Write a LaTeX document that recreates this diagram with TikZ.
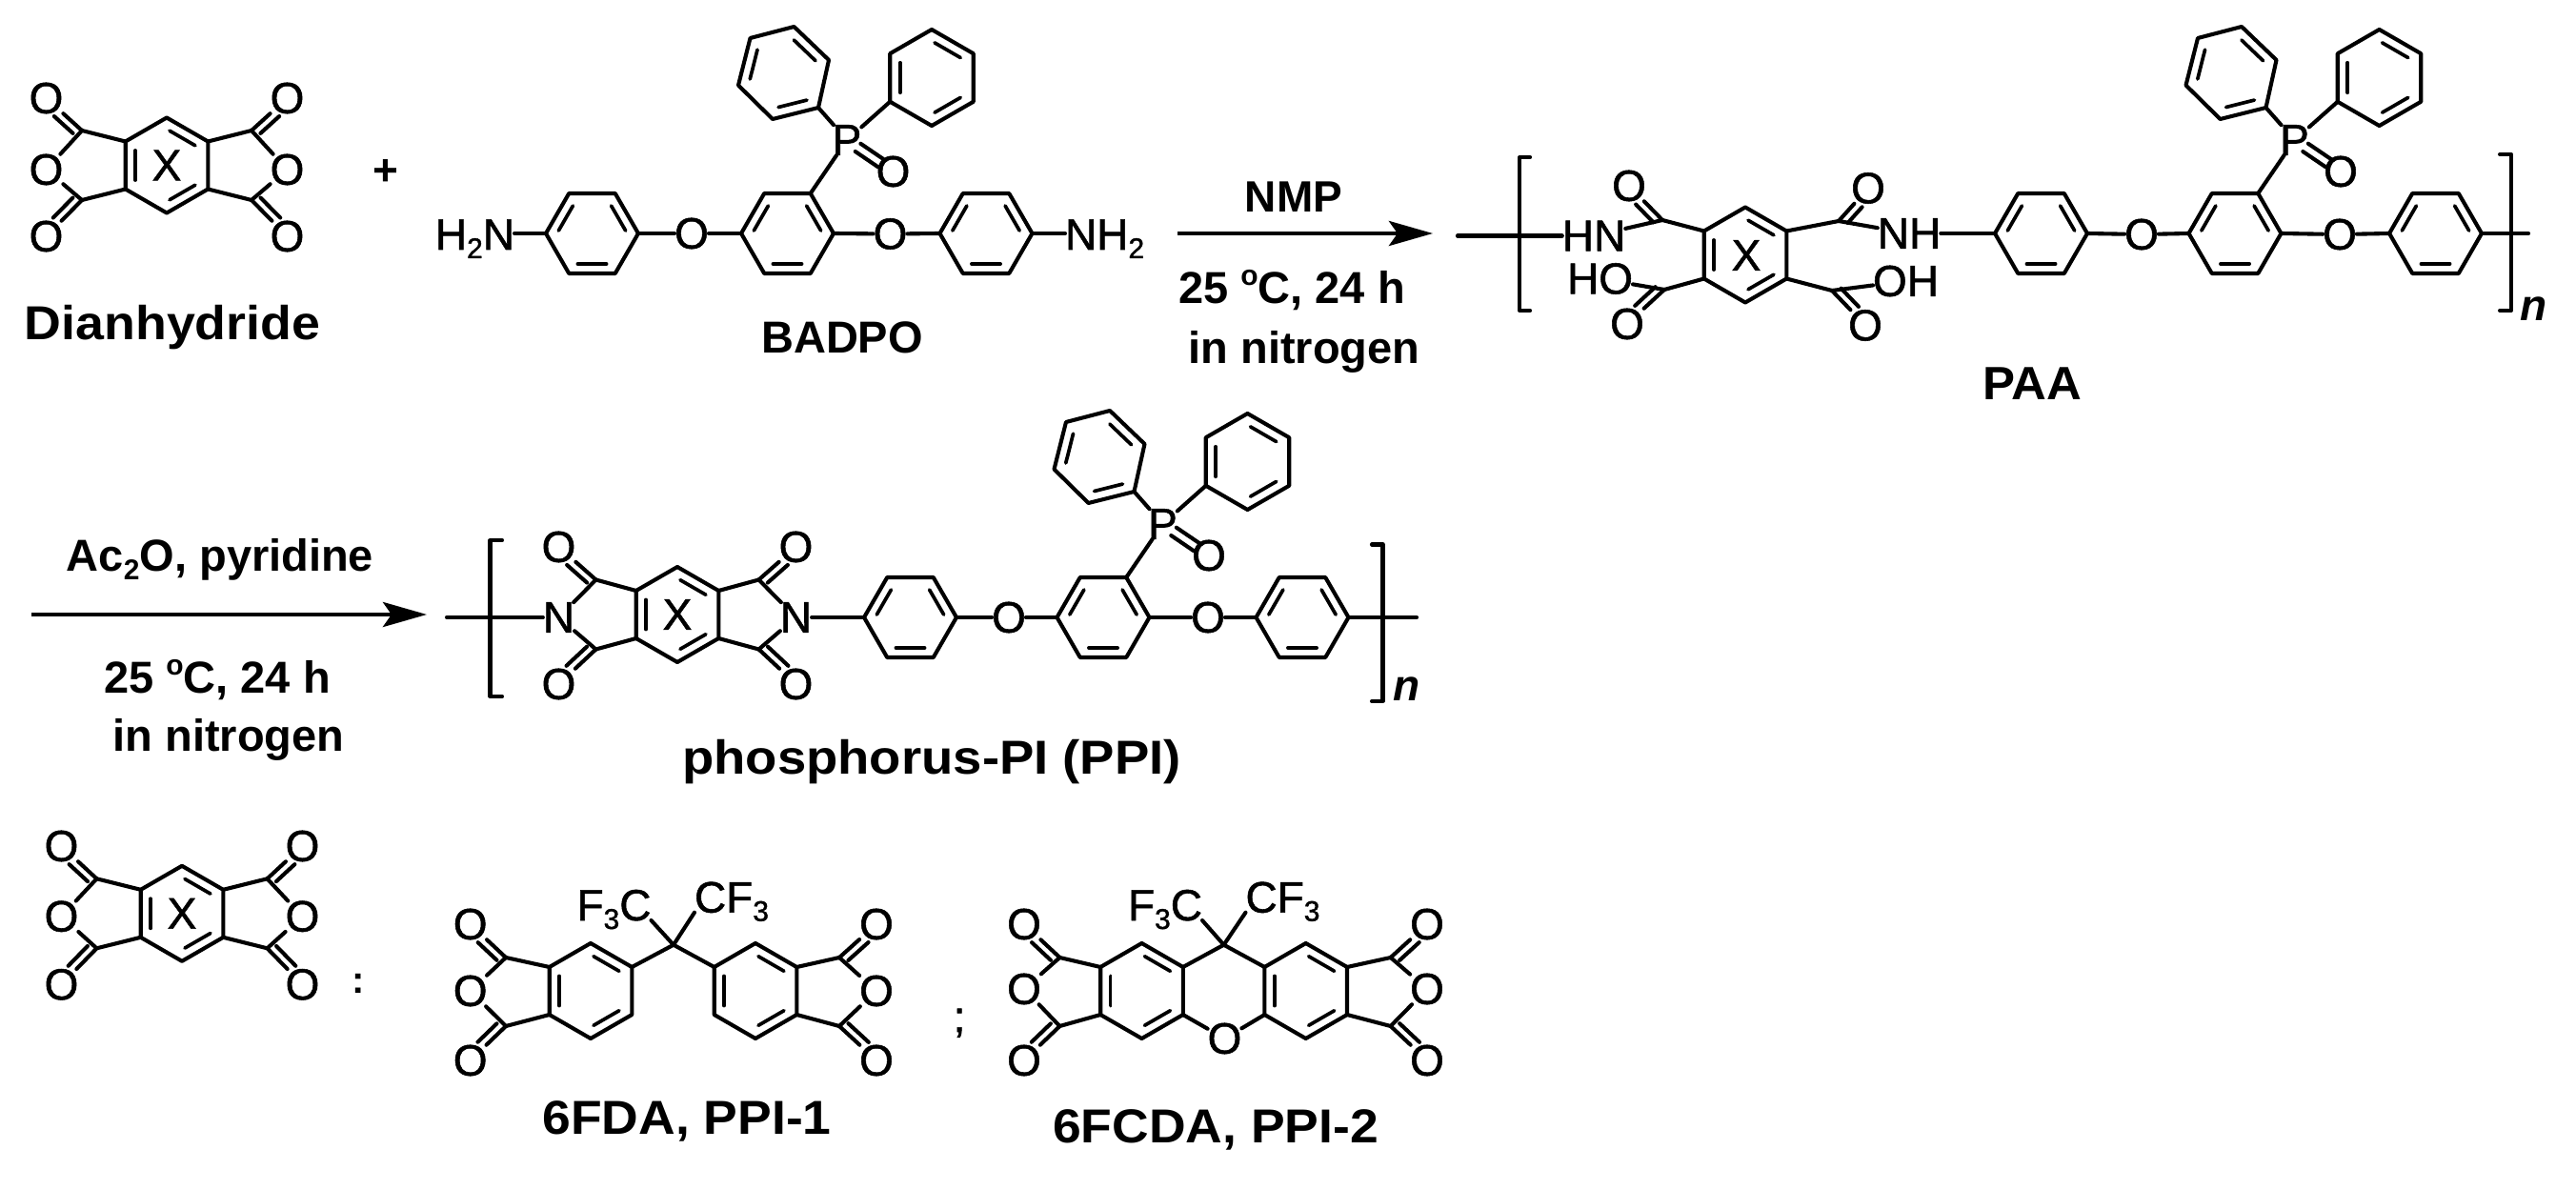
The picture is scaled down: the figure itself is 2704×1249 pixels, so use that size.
\documentclass[tikz,border=0pt]{standalone}
\usepackage{graphicx}
\usepackage{fontspec}
\setmainfont{Liberation Sans}
\newfontfamily\atomf[FakeBold=1.2]{Liberation Sans}
\usetikzlibrary{calc,arrows.meta}
\tikzset{
  bond/.style={line width=4.1pt,line join=round,line cap=round},
  ibond/.style={line width=3.7pt,line cap=round},
  rxn/.style={line width=4.8pt,-{Stealth[length=46pt,width=26pt,inset=9pt]}},
  atom/.style={inner sep=0pt,outer sep=0pt,font=\atomf\fontsize{46}{46}\selectfont},
  lab/.style={inner sep=0pt,outer sep=0pt,anchor=base,font={\bfseries\fontsize{#1}{#1}\selectfont}},
  subl/.style={inner sep=0pt,outer sep=0pt,anchor=base,font=\atomf\fontsize{46}{46}\selectfont},
  nlab/.style={inner sep=0pt,outer sep=0pt,anchor=base,font={\bfseries\itshape\fontsize{46}{46}\selectfont}},
}
\newcommand{\dnsub}[1]{\raisebox{-9pt}{\fontsize{30}{30}\selectfont #1}}
\newcommand{\hstr}[2]{\scalebox{#1}[1]{#2}}
\newcommand{\hexP}[4]{%
  \coordinate (#1c) at (#2,#3);
  \coordinate (#11) at (#2,#3-#4);
  \coordinate (#12) at (#2+0.866*#4,#3-0.5*#4);
  \coordinate (#13) at (#2+0.866*#4,#3+0.5*#4);
  \coordinate (#14) at (#2,#3+#4);
  \coordinate (#15) at (#2-0.866*#4,#3+0.5*#4);
  \coordinate (#16) at (#2-0.866*#4,#3-0.5*#4);
}
\newcommand{\hexF}[4]{%
  \coordinate (#1c) at (#2,#3);
  \coordinate (#11) at (#2-#4,#3);
  \coordinate (#12) at (#2-0.5*#4,#3-0.866*#4);
  \coordinate (#13) at (#2+0.5*#4,#3-0.866*#4);
  \coordinate (#14) at (#2+#4,#3);
  \coordinate (#15) at (#2+0.5*#4,#3+0.866*#4);
  \coordinate (#16) at (#2-0.5*#4,#3+0.866*#4);
}
\newcommand{\outl}[1]{\draw[bond] (#11)--(#12)--(#13)--(#14)--(#15)--(#16)--cycle;}
\newcommand{\ib}[3]{\draw[ibond]
  ($($(#1#2)!.24!(#1c)$)!.09!($(#1#3)!.24!(#1c)$)$) --
  ($($(#1#3)!.24!(#1c)$)!.09!($(#1#2)!.24!(#1c)$)$);}
\newcommand{\ringP}[1]{\outl{#1}\ib{#1}{1}{2}\ib{#1}{3}{4}\ib{#1}{5}{6}}
\newcommand{\ringF}[1]{\outl{#1}\ib{#1}{1}{2}\ib{#1}{3}{4}\ib{#1}{5}{6}}
% carbonyl: C, O, side angle, opposite angle
\newcommand{\dblO}[4]{%
  \draw[bond] (#1)--(#2);
  \draw[bond,shorten <=5pt,shorten >=19pt] ($(#1)!8.5pt!#3:(#2)$)--($(#2)!8.5pt!#4:(#1)$);}
\newcommand{\fivering}[9]{%
  \coordinate (#1Ct) at (#4,#5);
  \coordinate (#1Cb) at (#4,#6);
  \node[atom] (#1Ot) at (#7,#8) {O};
  \draw[bond] (#2)--(#1Ct);
  \draw[bond] (#3)--(#1Cb);
  \fiveringB{#1}{#7}#9}
\newcommand{\fiveringB}[5]{%
  \node[atom] (#1M) at (#2,#3) {#5};
  \node[atom] (#1Ob) at (#2,#4) {O};
  \draw[bond] (#1Ct)--(#1M);
  \draw[bond] (#1Cb)--(#1M);
  \ifnum\fiveang>0
    \dblO{#1Ct}{#1Ot}{90}{-90}
    \dblO{#1Cb}{#1Ob}{-90}{90}
  \else
    \dblO{#1Ct}{#1Ot}{-90}{90}
    \dblO{#1Cb}{#1Ob}{90}{-90}
  \fi}
\newcommand{\pmda}[9]{% name cx cy dC dO dyOt dyM dyOb mid
  \hexP{#1}{#2}{#3}{50}
  \ringP{#1}
  \node[atom] (#1X) at (#2,#3) {X};
  \def\fiveang{1}
  \fivering{#1L}{#16}{#15}{#2-#4}{#3-36.5}{#3+36.5}{#2-#5}{#3-#6}{{#3+#7}{#3+#8}{#9}}
  \def\fiveang{-1}
  \fivering{#1R}{#12}{#13}{#2+#4}{#3-36.5}{#3+36.5}{#2+#5}{#3-#6}{{#3+#7}{#3+#8}{#9}}
}
\newcommand{\dpocore}[3]{%
  \hexF{#1}{#2}{#3}{48.5}
  \ringF{#1}
  \coordinate (#1pl0) at (#2-4+11,#3-168.5-48.5);
  \coordinate (#1pl1) at (#2-4+47.5,#3-168.5-13.5);
  \coordinate (#1pl2) at (#2-4+36.5,#3-168.5+36.5);
  \coordinate (#1pl3) at (#2-4-11.5,#3-168.5+48.5);
  \coordinate (#1pl4) at (#2-4-47.5,#3-168.5+13);
  \coordinate (#1pl5) at (#2-4-35,#3-168.5-36.5);
  \coordinate (#1plc) at (#2-4,#3-168.5);
  \draw[bond] (#1pl0)--(#1pl1)--(#1pl2)--(#1pl3)--(#1pl4)--(#1pl5)--cycle;
  \ib{#1pl}{0}{1}\ib{#1pl}{2}{3}\ib{#1pl}{4}{5}
  \hexP{#1pr}{#2+151.5}{#3-163.5}{50.5}
  \ringP{#1pr}
  \node[atom] (#1P) at (#2+62.5,#3-98) {P};
  \node[atom] (#1PO) at (#2+111,#3-65) {O};
  \draw[bond] (#13)--(#1P);
  \draw[bond] (#1pl2)--(#1P);
  \draw[bond] (#1pr5)--(#1P);
  \draw[bond,shorten <=14pt,shorten >=16pt] ($(#1P)!5pt!90:(#1PO)$)--($(#1PO)!5pt!-90:(#1P)$);
  \draw[bond,shorten <=14pt,shorten >=16pt] ($(#1P)!5pt!-90:(#1PO)$)--($(#1PO)!5pt!90:(#1P)$);
}
\begin{document}
\begin{tikzpicture}[x=1pt,y=-1pt]
\useasboundingbox (0,0) rectangle (2704,1249);

% ---------- top left: dianhydride ----------
\pmda{da}{175}{173.5}{89}{126.5}{70.5}{4.5}{74.5}{O}
\node[lab=50] (tDian) at (181,356) {\hstr{1.075}{Dianhydride}};
\node[lab=46] (tPlus) at (405,195) {+};

% ---------- BADPO ----------
\hexF{ba}{621.5}{245}{48.5}
\ringF{ba}
\dpocore{bb}{826.5}{245}
\hexF{bc}{1035}{245}{48.5}
\ringF{bc}
\node[atom,anchor=base east] (bH) at (540,262) {H\dnsub{2}N};
\node[atom] (bO1) at (726,245) {O};
\node[atom] (bO2) at (934.5,245.5) {O};
\node[atom,anchor=base west] (bN) at (1118,262) {NH\dnsub{2}};
\draw[bond] (ba1)--(bH.east |- ba1);
\draw[bond] (ba4)--(bO1);
\draw[bond] (bO1)--(bb1);
\draw[bond] (bb4)--(bO2);
\draw[bond] (bO2)--(bc1);
\draw[bond] (bc4)--(bN.west |- bc4);
\node[lab=47] (tBAD) at (884,370.5) {BADPO};

% ---------- arrow 1 ----------
\coordinate (a1s) at (1236,245);
\coordinate (a1e) at (1504,245);
\draw[rxn] (a1s)--(a1e);
\node[lab=46] (tNMP) at (1358,223) {NMP};
\node[lab=47] (tT1) at (1356,319) {25 \raisebox{19pt}{\fontsize{30}{30}\selectfont o}C, 24 h};
\node[lab=47] (tN1) at (1369,381) {in nitrogen};

% ---------- PAA ----------
\coordinate (paT1) at (1530,247.5);
\coordinate (paB1) at (1606,165);
\coordinate (paB2) at (1595,165);
\coordinate (paB3) at (1595,326);
\coordinate (paB4) at (1606,326);
\draw[bond] (paB1)--(paB2)--(paB3)--(paB4);
\node[atom] (paHN) at (1673,247.5) {HN};
\node[atom] (paNH) at (2004,245) {NH};
\node[atom] (paHO) at (1679.5,292.5) {HO};
\node[atom] (paOH) at (2000.5,295) {OH};
\draw[bond] (paT1)--(paHN);
\hexP{par}{1832}{267.5}{50}
\ringP{par}
\node[atom] (paX) at (1833,268) {X};
\node[atom] (paO1) at (1710,195) {O};
\node[atom] (paO2) at (1961,197.5) {O};
\node[atom] (paO3) at (1708,340) {O};
\node[atom] (paO4) at (1958,341.5) {O};
\coordinate (paC1) at (1745,231);
\coordinate (paC2) at (1930,232);
\coordinate (paC3) at (1747,304);
\coordinate (paC4) at (1923,305);
\draw[bond] (par6)--(paC1);
\draw[bond] (par2)--(paC2);
\draw[bond] (par5)--(paC3);
\draw[bond] (par3)--(paC4);
\draw[bond] (paC1)--(paHN);
\draw[bond] (paC2)--(paNH);
\draw[bond] (paC3)--(paHO);
\draw[bond] (paC4)--(paOH);
\dblO{paC1}{paO1}{90}{-90}
\dblO{paC2}{paO2}{-90}{90}
\dblO{paC3}{paO3}{-90}{90}
\dblO{paC4}{paO4}{90}{-90}
\hexF{pd}{2142.5}{245}{48.5}
\ringF{pd}
\dpocore{pe}{2346}{245}
\hexF{pf}{2556.5}{245}{48.5}
\ringF{pf}
\node[atom] (paO5) at (2248,246) {O};
\node[atom] (paO6) at (2456,246) {O};
\draw[bond] (paNH)--(pd1);
\draw[bond] (pd4)--(paO5);
\draw[bond] (paO5)--(pe1);
\draw[bond] (pe4)--(paO6);
\draw[bond] (paO6)--(pf1);
\coordinate (paT2) at (2654,245);
\draw[bond] (pf4)--(paT2);
\coordinate (paB5) at (2624,162);
\coordinate (paB6) at (2636,162);
\coordinate (paB7) at (2636,326);
\coordinate (paB8) at (2624,326);
\draw[bond] (paB5)--(paB6)--(paB7)--(paB8);
\node[nlab] (paN) at (2660,337) {n};
\node[lab=49] (tPAA) at (2133,419) {\hstr{1.04}{PAA}};

% ---------- arrow 2 ----------
\coordinate (a2s) at (33,645);
\coordinate (a2e) at (448,645);
\draw[rxn] (a2s)--(a2e);
\node[lab=47] (tAc) at (231,599) {Ac\raisebox{-9pt}{\fontsize{30}{30}\selectfont 2}O, pyridine};
\node[lab=47] (tT2) at (228,727) {25 \raisebox{19pt}{\fontsize{30}{30}\selectfont o}C, 24 h};
\node[lab=47] (tN2) at (240,788) {in nitrogen};

% ---------- PPI ----------
\coordinate (piT1) at (469,648);
\coordinate (piB1) at (527,567);
\coordinate (piB2) at (514.5,567);
\coordinate (piB3) at (514.5,731);
\coordinate (piB4) at (527,731);
\draw[bond] (piB1)--(piB2)--(piB3)--(piB4);
\pmda{pi}{711}{645}{85.5}{124.5}{71}{3}{73}{N}
\draw[bond] (piT1)--(piLM);
\hexF{ph}{955.5}{648}{48.5}
\ringF{ph}
\dpocore{pj}{1158}{648}
\hexF{pk}{1367}{648}{48.5}
\ringF{pk}
\node[atom] (piO5) at (1059,648) {O};
\node[atom] (piO6) at (1268,648) {O};
\draw[bond] (piRM)--(ph1);
\draw[bond] (ph4)--(piO5);
\draw[bond] (piO5)--(pj1);
\draw[bond] (pj4)--(piO6);
\draw[bond] (piO6)--(pk1);
\coordinate (piT2) at (1487,648);
\draw[bond] (pk4)--(piT2);
\coordinate (piB5) at (1440,571.5);
\coordinate (piB6) at (1451.5,571.5);
\coordinate (piB7) at (1451.5,736);
\coordinate (piB8) at (1440,736);
\draw[bond] (piB5)--(piB6)--(piB7)--(piB8);
\node[nlab] (piN) at (1477,735) {n};
\node[lab=50] (tPPI) at (978,812) {\hstr{1.09}{phosphorus-PI (PPI)}};

% ---------- bottom: generic dianhydride ----------
\pmda{dg}{191}{958.8}{89.5}{126.5}{70.8}{3}{74.5}{O}
\node[lab=40] (tColon) at (376,1042) {:};

% ---------- 6FDA ----------
\hexP{fa}{620}{1040}{50}
\ringP{fa}
\hexP{fb}{793}{1040}{50}
\ringP{fb}
\coordinate (fC) at (707,991.7);
\draw[bond] (fa2)--(fC)--(fb6);
\node[subl] (fF1) at (644.5,966) {F\dnsub{3}C};
\node[subl] (fF2) at (768,957.7) {CF\dnsub{3}};
\draw[bond] (fC)--(fF1.base east);
\draw[bond] (fC)--(fF2.base west);
\def\fiveang{1}
\fivering{faL}{fa6}{fa5}{531}{1005}{1077}{493.7}{970}{{1040}{1113}{O}}
\def\fiveang{-1}
\fivering{fbR}{fb2}{fb3}{881}{1005}{1077}{920}{970}{{1040}{1113}{O}}
\node[lab=50] (t6FDA) at (721,1190) {\hstr{1.07}{6FDA, PPI-1}};
\node[subl] (tSemi) at (1007,1083) {;};

% ---------- 6FCDA ----------
\hexP{ga}{1198.5}{1040}{50}
\ringP{ga}
\hexP{gb}{1370.7}{1040}{50}
\ringP{gb}
\coordinate (gC) at (1284.6,991.7);
\draw[bond] (ga2)--(gC)--(gb6);
\node[atom] (gO) at (1285.5,1090) {O};
\draw[bond] (ga3)--(gO)--(gb5);
\node[subl] (gF1) at (1223,966) {F\dnsub{3}C};
\node[subl] (gF2) at (1346.5,957.7) {CF\dnsub{3}};
\draw[bond] (gC)--(gF1.base east);
\draw[bond] (gC)--(gF2.base west);
\def\fiveang{1}
\fivering{gaL}{ga6}{ga5}{1112.4}{1005}{1077}{1075}{970}{{1038}{1113}{O}}
\def\fiveang{-1}
\fivering{gbR}{gb2}{gb3}{1459.7}{1005}{1077}{1498}{970}{{1038}{1113}{O}}
\node[lab=50] (t6FCDA) at (1276,1199) {\hstr{1.07}{6FCDA, PPI-2}};
\end{tikzpicture}
\end{document}
